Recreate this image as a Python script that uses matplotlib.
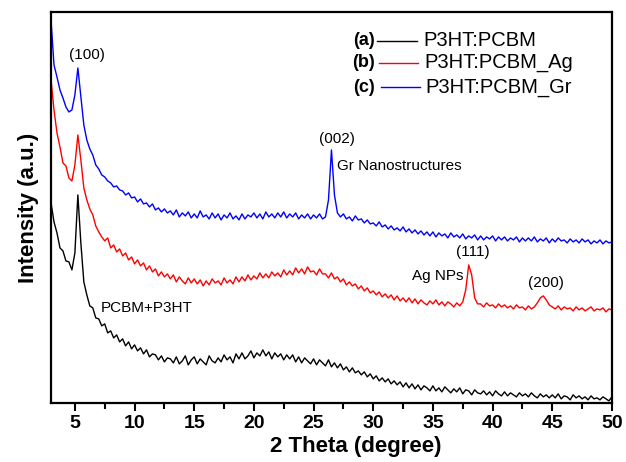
import numpy as np
import matplotlib
matplotlib.use('Agg')
import matplotlib.pyplot as plt
from matplotlib.lines import Line2D

plt.rcParams['font.family'] = ['Liberation Sans', 'DejaVu Sans']

# 2 theta grid of the digitised patterns (0.25 degree step)
two_theta = np.arange(3.0, 50.001, 0.25)

# (a) P3HT:PCBM
int_a = [
    200, 181, 170, 155, 152, 142, 141, 133,
    150, 208, 160, 121, 108, 97, 95, 85,
    84, 77, 79, 70, 72, 65, 68, 61,
    64, 57, 61, 54, 58, 52, 55, 49,
    53, 46, 49, 48, 43, 47, 41, 45,
    44, 40, 46, 39, 42, 47, 38, 43,
    46, 39, 44, 41, 38, 47, 42, 40,
    45, 41, 48, 43, 46, 40, 49, 44,
    50, 44, 47, 52, 45, 50, 47, 53,
    47, 51, 44, 50, 46, 49, 43, 48,
    44, 48, 41, 46, 40, 45, 42, 39,
    44, 38, 43, 40, 37, 43, 36, 40,
    35, 39, 33, 36, 31, 35, 30, 32,
    28, 31, 26, 29, 24, 27, 22, 25,
    21, 24, 19, 22, 18, 21, 16, 20,
    15, 19, 14, 18, 13, 17, 15, 12,
    17, 12, 15, 11, 16, 13, 10, 14,
    11, 15, 9, 13, 12, 8, 13, 10,
    9, 12, 8, 11, 7, 12, 9, 7,
    11, 7, 10, 8, 6, 10, 7, 9,
    6, 10, 7, 5, 9, 6, 8, 5,
    8, 5, 9, 4, 7, 6, 3, 8,
    5, 7, 4, 6, 3, 7, 4, 5,
    3, 6, 4, 2, 6,
]

# (b) P3HT:PCBM_Ag
int_b = [
    323, 293, 270, 256, 240, 237, 225, 222,
    238, 268, 243, 215, 203, 194, 188, 177,
    171, 166, 162, 165, 155, 158, 151, 154,
    147, 150, 143, 146, 139, 143, 137, 140,
    133, 137, 131, 134, 127, 131, 126, 129,
    124, 128, 121, 126, 122, 119, 125, 120,
    124, 119, 123, 117, 122, 118, 124, 120,
    122, 118, 125, 120, 123, 119, 126, 121,
    126, 122, 128, 123, 127, 124, 130, 125,
    129, 125, 131, 127, 130, 126, 133, 128,
    132, 128, 135, 130, 134, 129, 136, 131,
    132, 128, 134, 129, 129, 125, 130, 124,
    126, 121, 124, 118, 121, 117, 119, 114,
    117, 112, 115, 110, 112, 108, 111, 106,
    109, 105, 108, 103, 107, 102, 105, 101,
    105, 100, 104, 99, 103, 100, 98, 102,
    99, 103, 98, 101, 97, 101, 99, 96,
    100, 97, 101, 113, 138, 128, 105, 99,
    99, 96, 100, 97, 98, 95, 99, 96,
    98, 95, 97, 94, 98, 95, 96, 93,
    97, 94, 96, 100, 105, 107, 103, 98,
    96, 94, 97, 93, 96, 94, 95, 92,
    96, 93, 95, 92, 94, 96, 92, 94,
    93, 95, 91, 94, 93,
]

# (c) P3HT:PCBM_Gr
int_c = [
    383, 338, 326, 313, 305, 296, 291, 293,
    308, 335, 306, 278, 263, 254, 248, 238,
    234, 228, 226, 222, 220, 216, 217, 213,
    212, 208, 210, 205, 206, 201, 204, 199,
    200, 196, 199, 193, 195, 191, 194, 190,
    192, 188, 193, 186, 190, 187, 191, 185,
    189, 185, 192, 186, 188, 184, 190, 185,
    189, 183, 188, 185, 190, 184, 187, 183,
    189, 184, 188, 186, 190, 185, 189, 184,
    191, 186, 189, 185, 190, 186, 191, 185,
    189, 186, 190, 184, 188, 185, 189, 184,
    188, 185, 189, 184, 186, 203, 253, 208,
    190, 186, 189, 184, 186, 182, 187, 183,
    184, 180, 183, 179, 180, 177, 181, 176,
    178, 174, 177, 173, 175, 172, 176, 171,
    174, 170, 173, 169, 172, 168, 171, 167,
    171, 166, 170, 167, 169, 165, 170, 166,
    168, 165, 169, 164, 167, 165, 168, 163,
    167, 163, 166, 164, 167, 162, 166, 163,
    166, 162, 165, 163, 166, 161, 165, 162,
    165, 162, 166, 161, 164, 162, 165, 160,
    164, 161, 165, 162, 163, 160, 164, 161,
    163, 160, 164, 161, 163, 159, 162, 160,
    163, 159, 162, 160, 161,
]

tags = ['(a)', '(b)', '(c)']
labels = ['P3HT:PCBM', 'P3HT:PCBM_Ag', 'P3HT:PCBM_Gr']
colors = ['black', 'red', 'blue']

fig = plt.figure(figsize=(6.26, 4.62), dpi=100)
ax = fig.add_axes([0.0815, 0.128, 0.896, 0.846])

for y, c in zip([int_a, int_b, int_c], colors):
    ax.plot(two_theta, y, color=c, lw=1.0)

ax.set_xlim(3, 50)
ax.set_ylim(0, 391)
ax.set_yticks([])
ax.set_xticks(np.arange(5, 51, 5))
ax.set_xticks(np.arange(7.5, 50, 5), minor=True)
ax.tick_params(axis='x', which='major', direction='out', length=6, width=1.5,
               labelsize=14, pad=3)
ax.tick_params(axis='x', which='minor', direction='out', length=4, width=1.5)
for lab in ax.get_xticklabels():
    lab.set_fontweight('bold')
for s in ax.spines.values():
    s.set_linewidth(1.6)

ax.set_xlabel('2 Theta (degree)', fontsize=16, fontweight='bold')
ax.xaxis.set_label_coords(0.544, -0.085)
ax.set_ylabel('Intensity (a.u.)', fontsize=16, fontweight='bold', labelpad=9)

# peak annotations
ax.text(6.0, 348, '(100)', fontsize=11, ha='center', va='center')
ax.text(26.94, 264, '(002)', fontsize=11, ha='center', va='center')
ax.text(26.98, 237, 'Gr Nanostructures', fontsize=11, ha='left', va='center')
ax.text(38.33, 151, '(111)', fontsize=11, ha='center', va='center')
ax.text(37.54, 127, 'Ag NPs', fontsize=11, ha='right', va='center')
ax.text(44.47, 120, '(200)', fontsize=11, ha='center', va='center')
ax.text(7.2, 95, 'PCBM+P3HT', fontsize=11, ha='left', va='center')

# hand-made legend: bold tag, line sample, label
rows_y = [0.926, 0.870, 0.808]
for i, (t, l, c) in enumerate(zip(tags, labels, colors)):
    yy = rows_y[i]
    ax.text(0.578, yy, t, transform=ax.transAxes, fontsize=13, fontweight='bold',
            ha='right', va='center')
    ax.add_line(Line2D([0.582 + 0.003 * i, 0.652 + 0.003 * i], [yy, yy],
                       transform=ax.transAxes, color=c, lw=1.0))
    ax.text(0.663 + 0.002 * i, yy, l, transform=ax.transAxes, fontsize=14.5,
            ha='left', va='center')

fig.savefig('out.png', dpi=100)
